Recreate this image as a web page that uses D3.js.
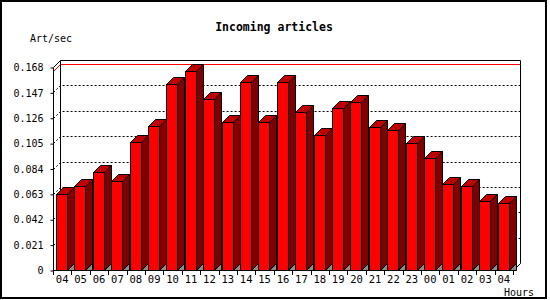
<!DOCTYPE html>
<html>
<head>
<meta charset="utf-8">
<script src="https://cdn.jsdelivr.net/npm/d3@7"></script>
<style>
  body { margin: 0; background: #fff; }
  svg { display: block; }
</style>
</head>
<body>
<svg id="chart"></svg>
<script>
// hours shown along the bottom (24h window, starting and ending at 04)
const hours = ["04","05","06","07","08","09","10","11","12","13","14","15","16",
               "17","18","19","20","21","22","23","00","01","02","03","04"];
// articles per second for each hour
const rates = [0.063, 0.0695, 0.081, 0.074, 0.106, 0.119, 0.154, 0.165, 0.1415, 0.1225,
               0.1555, 0.1225, 0.1555, 0.131, 0.112, 0.134, 0.139, 0.118, 0.116, 0.105,
               0.0925, 0.071, 0.0695, 0.0575, 0.0557];
const yTicks = [0, 0.021, 0.042, 0.063, 0.084, 0.105, 0.126, 0.147, 0.168];
const yTickLabels = ["0", "0.021", "0.042", "0.063", "0.084", "0.105", "0.126", "0.147", "0.168"];

const width = 550, height = 300;
const depth = 7;
const font = "'DejaVu Sans Mono', monospace";

const svg = d3.select("#chart")
    .attr("width", width)
    .attr("height", height);

const x = d3.scaleBand()
    .domain(d3.range(hours.length))
    .range([53, 513]);

const y = d3.scaleLinear()
    .domain([0, 0.168])
    .range([270, 67]);

const y0 = y(0);
const yTop = y(0.168);
const xL = x.range()[0], xR = x.range()[1];

// outer frame
svg.append("rect")
    .attr("x", 1).attr("y", 1)
    .attr("width", 545).attr("height", 297)
    .attr("fill", "none")
    .attr("stroke", "black")
    .attr("stroke-width", 2);

// dotted grid on back wall (with the bit across the side wall)
svg.append("g").selectAll("path")
    .data(yTicks.slice(1, -1))
    .join("path")
      .attr("d", d => {
        const yy = Math.round(y(d)) + 0.5;
        return `M${xL + 0.5},${yy} L${xL + depth + 0.5},${yy - depth} L${xR + depth + 0.5},${yy - depth}`;
      })
      .attr("fill", "none")
      .attr("stroke", "black")
      .attr("stroke-dasharray", "2,2");

// max line in red
const maxY = Math.round(y(d3.max(rates))) + 0.5;
svg.append("path")
    .attr("d", `M${xL + 0.5},${maxY} L${xL + depth + 0.5},${maxY - depth} L${xR + depth + 0.5},${maxY - depth}`)
    .attr("fill", "none")
    .attr("stroke", "red");

// walls
const walls = svg.append("g").attr("fill", "none").attr("stroke", "black");
walls.append("path")
    .attr("d", `M${xL + 0.5},${Math.round(yTop) + 0.5} L${xL + depth + 0.5},${Math.round(yTop) - depth + 0.5}
                L${xR + depth + 0.5},${Math.round(yTop) - depth + 0.5} L${xR + depth + 0.5},${y0 - depth + 0.5}
                L${xR + 0.5},${y0 + 0.5}`);
walls.append("path")
    .attr("d", `M${xL + depth + 0.5},${Math.round(yTop) - depth + 0.5} L${xL + depth + 0.5},${y0 - depth + 0.5}`);

// bars
const bar = svg.append("g").selectAll("g")
    .data(rates)
    .join("g")
      .attr("stroke", "black")
      .attr("stroke-linejoin", "miter");

bar.each(function(d, i) {
    const g = d3.select(this);
    const xl = Math.round(x(i)) + 3 + 0.5;
    const xr = xl + 11;
    const yt = Math.round(y(d)) + 0.5;
    const yb = y0 + 0.5;
    g.append("polygon")
        .attr("points", `${xr},${yb} ${xr + depth},${yb - depth} ${xr + depth},${yb}`)
        .attr("fill", "#8c8c8c");
    g.append("polygon")
        .attr("points", `${xr},${yt} ${xr + depth},${yt - depth} ${xr + depth},${yb - depth} ${xr},${yb}`)
        .attr("fill", "#800000");
    g.append("polygon")
        .attr("points", `${xl},${yt} ${xr},${yt} ${xr + depth},${yt - depth} ${xl + depth},${yt - depth}`)
        .attr("fill", "#c00000");
    g.append("rect")
        .attr("x", xl).attr("y", yt)
        .attr("width", 11).attr("height", yb - yt)
        .attr("fill", "#ff0000");
});

// front axes lines
svg.append("path")
    .attr("d", `M${xL + 0.5},${Math.round(yTop) + 0.5} L${xL + 0.5},${y0 + 0.5} L${xR + 0.5},${y0 + 0.5}`)
    .attr("fill", "none")
    .attr("stroke", "black");

// y axis
const yAxis = d3.axisLeft(y)
    .tickValues(yTicks)
    .tickSize(3)
    .tickPadding(7)
    .tickFormat((d, i) => yTickLabels[i]);

const yg = svg.append("g")
    .attr("transform", `translate(${xL + 0.5},0.5)`)
    .call(yAxis);
yg.select(".domain").remove();
yg.selectAll("text").attr("font-family", font).attr("font-size", 10).attr("fill", "black");

// x axis: labels at band centres, ticks at band edges
const xAxis = d3.axisBottom(x)
    .tickSize(0)
    .tickPadding(5.5)
    .tickFormat(i => hours[i]);

const xg = svg.append("g")
    .attr("transform", `translate(0,${y0})`)
    .call(xAxis);
xg.select(".domain").remove();
xg.selectAll("text").attr("font-family", font).attr("font-size", 10.5).attr("fill", "black");

svg.append("g").selectAll("line")
    .data(d3.range(hours.length + 1))
    .join("line")
      .attr("x1", i => Math.round(xL + i * x.step()) + 0.5)
      .attr("x2", i => Math.round(xL + i * x.step()) + 0.5)
      .attr("y1", y0)
      .attr("y2", y0 + 5)
      .attr("stroke", "black");

// titles
svg.append("text")
    .attr("x", 274).attr("y", 31)
    .attr("text-anchor", "middle")
    .attr("font-family", font)
    .attr("font-weight", "bold")
    .attr("font-size", 11.5)
    .text("Incoming articles");

svg.append("text")
    .attr("x", 30).attr("y", 42)
    .attr("font-family", font)
    .attr("font-size", 10)
    .text("Art/sec");

svg.append("text")
    .attr("x", 534).attr("y", 296)
    .attr("text-anchor", "end")
    .attr("font-family", font)
    .attr("font-size", 10)
    .text("Hours");
</script>
</body>
</html>
